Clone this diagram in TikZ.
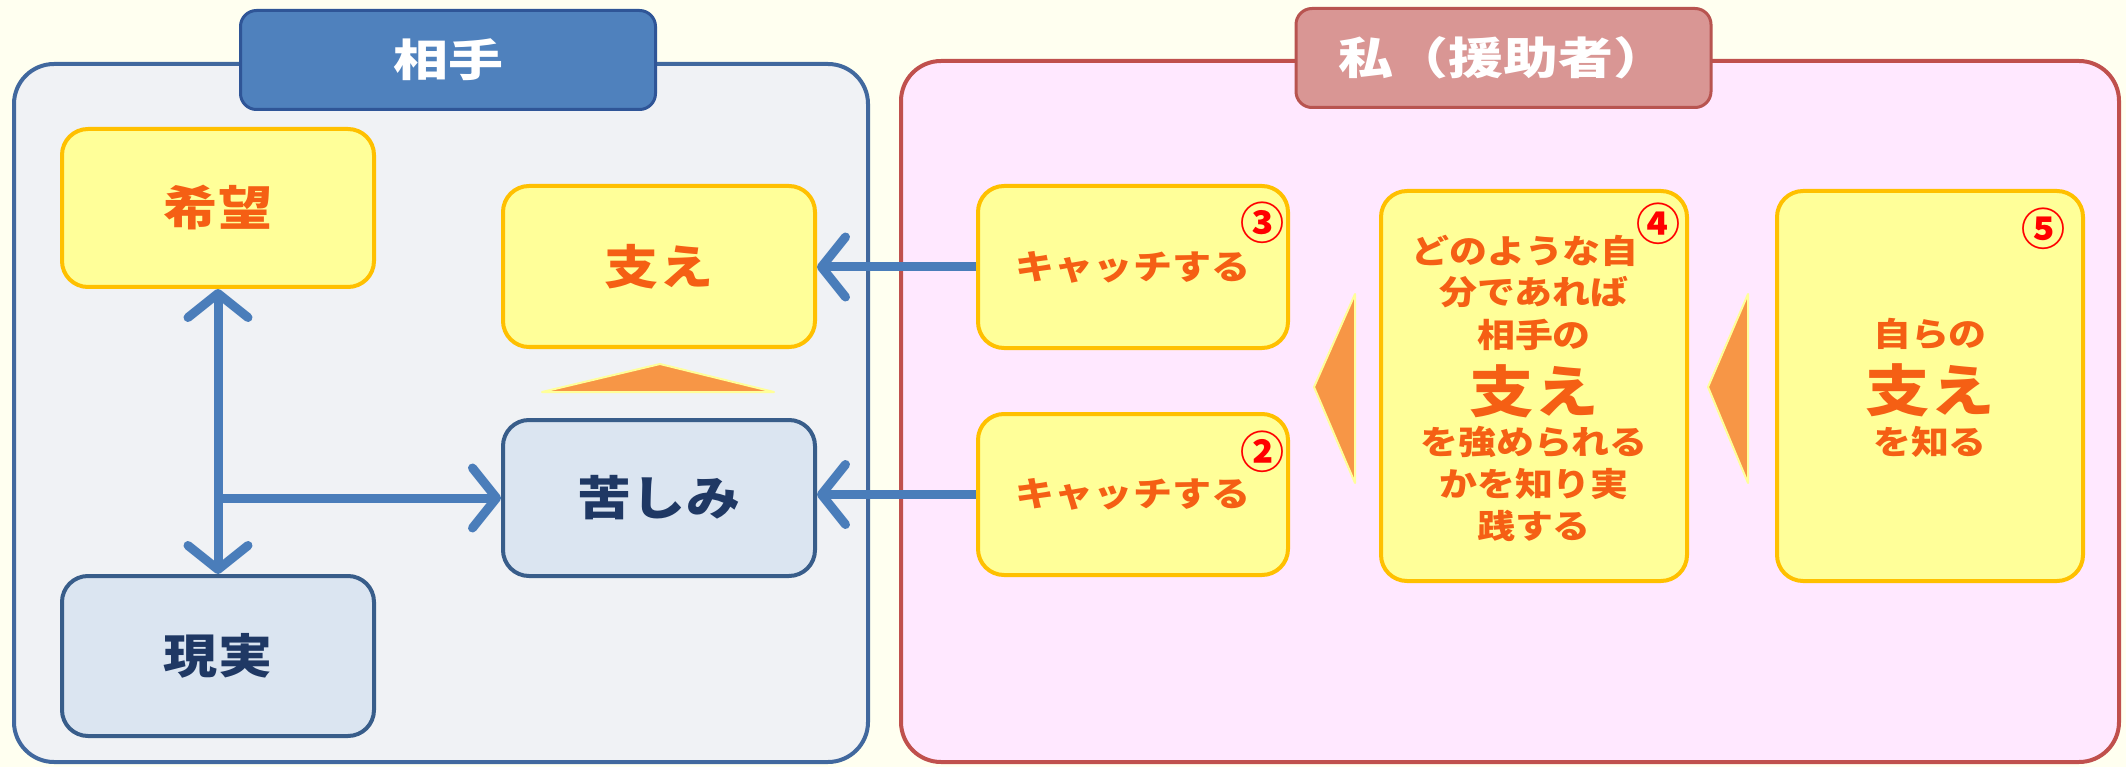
\documentclass[tikz,border=0pt]{standalone}
\usepackage{fontspec}
\newfontfamily\jp{Noto Sans CJK JP}[FakeStretch=1.15]
\newfontfamily\jpw{Noto Sans CJK JP}[FakeStretch=1.25]
\newfontfamily\jpn{Noto Sans CJK JP}
\usetikzlibrary{arrows.meta}
\definecolor{bgcream}{HTML}{FFFFF0}
\definecolor{lpanel}{HTML}{F0F2F5}
\definecolor{lborder}{HTML}{41689E}
\definecolor{ltab}{HTML}{4F81BD}
\definecolor{ltabb}{HTML}{2F5597}
\definecolor{rpanel}{HTML}{FFE8FF}
\definecolor{rborder}{HTML}{C0504D}
\definecolor{rtab}{HTML}{D99694}
\definecolor{rtabb}{HTML}{B85450}
\definecolor{yfill}{HTML}{FFFF99}
\definecolor{yborder}{HTML}{FFC000}
\definecolor{otext}{HTML}{F55F14}
\definecolor{bfill}{HTML}{DBE5F1}
\definecolor{bborder}{HTML}{385D8A}
\definecolor{btext}{HTML}{1F3864}
\definecolor{arrowblue}{HTML}{4A7DBA}
\definecolor{triorange}{HTML}{F79646}
\tikzset{
  panel/.style={draw, line width=4pt, rounded corners=40pt, inner sep=0pt},
  tab/.style={draw, line width=3pt, rounded corners=16pt, inner sep=0pt, minimum width=415pt, text=white, font=\jpw\bfseries\fontsize{44}{48}\selectfont},
  ybox/.style={draw=yborder, fill=yfill, line width=4pt, rounded corners=26pt, inner sep=0pt, text=otext, font=\jp\bfseries\fontsize{47}{50}\selectfont},
  bbox/.style={draw=bborder, fill=bfill, line width=4pt, rounded corners=26pt, inner sep=0pt, text=btext, font=\jp\bfseries\fontsize{47}{50}\selectfont},
  otxt/.style={text=otext, inner sep=0pt, font=\jp\bfseries\fontsize{33}{40}\selectfont},
  bigtxt/.style={text=otext, inner sep=0pt, font=\jp\bfseries\fontsize{56}{60}\selectfont},
  numtxt/.style={text=red, inner sep=0pt, font=\jpn\bfseries\fontsize{44}{48}\selectfont},
  arr/.style={draw=arrowblue, line width=9pt, -{Straight Barb[length=24pt, width=60pt, round]}},
  darr/.style={draw=arrowblue, line width=9pt, {Straight Barb[length=24pt, width=60pt, round]}-{Straight Barb[length=24pt, width=60pt, round]}},
  tri/.style={fill=triorange, draw=yfill, line width=2pt, line join=round}
}
\begin{document}
\begin{tikzpicture}[x=1pt,y=-1pt]
\useasboundingbox (0,0) rectangle (2126,767);
\fill[bgcream] (0,0) rectangle (2126,767);
% panels
\node[panel, draw=lborder, fill=lpanel, minimum width=854pt, minimum height=698pt] (panelL) at (441,413) {};
\node[tab, draw=ltabb, fill=ltab, minimum height=99pt] (tabL) at (448,60) {相手};
\node[panel, draw=rborder, fill=rpanel, minimum width=1218pt, minimum height=701pt] (panelR) at (1510,411.5) {};
\node[tab, draw=rtabb, fill=rtab, minimum height=99pt] (tabR) at (1503.5,58) {私（援助者）};
% left boxes
\node[ybox, minimum width=312pt, minimum height=158pt] (kibou) at (218,208) {希望};
\node[ybox, minimum width=312pt, minimum height=161pt] (sasae) at (659,266.5) {支え};
\node[bbox, minimum width=312pt, minimum height=156pt] (kurushimi) at (659,498) {苦しみ};
\node[bbox, minimum width=312pt, minimum height=160pt] (genjitsu) at (218,656) {現実};
% up triangle
\draw[tri] (542,392) -- (660,364) -- (774,392) -- cycle;
% arrows left
\coordinate (junc) at (kibou.south |- kurushimi.west);
\draw[darr] (kibou.south) -- (genjitsu.north);
\draw[arr] (junc) -- (kurushimi.west);
% right boxes
\node[ybox, minimum width=310pt, minimum height=162pt, font=\jp\bfseries\fontsize{34}{40}\selectfont] (catch3) at (1133,267) {キャッチする};
\node[ybox, minimum width=310pt, minimum height=161pt, font=\jp\bfseries\fontsize{34}{40}\selectfont] (catch2) at (1133,494.5) {キャッチする};
\node[ybox, minimum width=306pt, minimum height=390pt] (box4) at (1534,386) {};
\node[ybox, minimum width=306pt, minimum height=390pt] (box5) at (1930,386) {};
\draw[arr] (catch3.west) -- (sasae.east |- catch3.west);
\draw[arr] (catch2.west) -- (kurushimi.east |- catch2.west);
% left-pointing triangles
\draw[tri] (1355,294) -- (1314,387) -- (1355,483) -- cycle;
\draw[tri] (1748,294) -- (1708,387) -- (1748,483) -- cycle;
% box4 text
\node[otxt] (l41) at (1525,251) {どのような自};
\node[otxt] (l42) at (1534,292) {分であれば};
\node[otxt] (l43) at (1534,335) {相手の};
\node[bigtxt] (l44) at (1534,391) {支え};
\node[otxt] (l45) at (1534,442) {を強められる};
\node[otxt] (l46) at (1534,484) {かを知り実};
\node[otxt] (l47) at (1534,526) {践する};
% box5 text
\node[otxt] (l51) at (1930,334) {自らの};
\node[bigtxt] (l52) at (1930,390) {支え};
\node[otxt] (l53) at (1930,442) {を知る};
% numbers
\node[numtxt] (n3) at (1262,223) {③};
\node[numtxt] (n2) at (1262,452) {②};
\node[numtxt] (n4) at (1658,224) {④};
\node[numtxt] (n5) at (2043,229) {⑤};
\end{tikzpicture}
\end{document}
